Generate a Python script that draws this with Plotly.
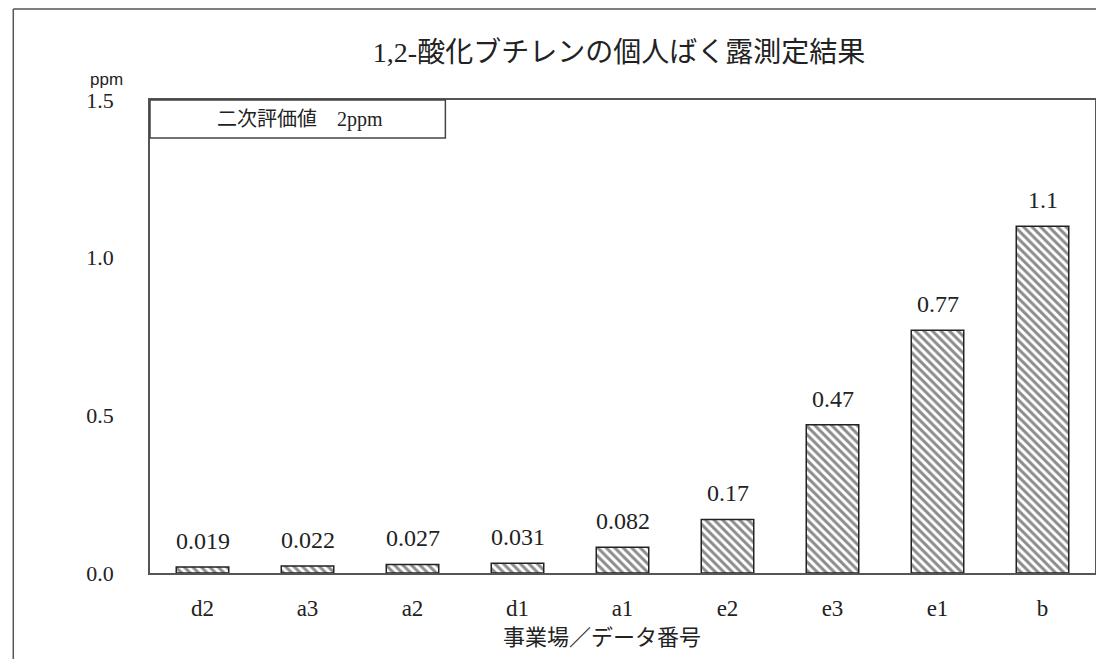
import plotly.graph_objects as go

categories = ["d2", "a3", "a2", "d1", "a1", "e2", "e3", "e1", "b"]
values = [0.019, 0.022, 0.027, 0.031, 0.082, 0.17, 0.47, 0.77, 1.1]
value_labels = ["0.019", "0.022", "0.027", "0.031", "0.082", "0.17", "0.47", "0.77", "1.1"]
y_ticks = [0.0, 0.5, 1.0, 1.5]
y_tick_labels = ["0.0", "0.5", "1.0", "1.5"]

title_text = "1,2-酸化ブチレンの個人ばく露測定結果"
x_title = "事業場／データ番号"
unit_text = "ppm"
note_text = "二次評価値　2ppm"

SERIF = "Liberation Serif, Noto Sans CJK JP, serif"
CJK = "Liberation Serif, Noto Sans CJK JP, sans-serif"

# page body has an 8px margin; work in reference-pixel coordinates and shift
OFF = 8
W, H = 1104 - OFF, 659 - OFF
PL, PR, PT, PB = 150, 1097, 100, 573  # plot area in reference pixels
L, R, T, B = PL - OFF, W - (PR - OFF), PT - OFF, H - (PB - OFF)
pw, ph = PR - PL, PB - PT

def px(xp):
    return (xp - PL) / pw

def py(yp):
    return (PB - yp) / ph

fig = go.Figure()
fig.add_trace(go.Bar(
    x=categories,
    y=values,
    marker=dict(
        color="white",
        line=dict(color="#222222", width=1.5),
        pattern=dict(shape="\\", fgcolor="#1a1a1a", bgcolor="white", size=6, solidity=0.5),
    ),
    hoverinfo="skip",
))

for c, v, t in zip(categories, values, value_labels):
    fig.add_annotation(x=c, y=v, text=t, showarrow=False, yanchor="middle", yshift=26,
                       font=dict(family=SERIF, size=24, color="#222222"))

# outer frame (left and top edges)
fig.add_shape(type="line", xref="paper", yref="paper", x0=px(13), x1=px(13), y0=py(665), y1=py(9),
              line=dict(color="#555555", width=1.5))
fig.add_shape(type="line", xref="paper", yref="paper", x0=px(13), x1=px(1110), y0=py(9), y1=py(9),
              line=dict(color="#555555", width=1.5))

# note box
fig.add_shape(type="rect", xref="paper", yref="paper", x0=0, x1=px(446), y0=py(138), y1=1,
              line=dict(color="#444444", width=1.5), fillcolor="white", layer="above")
fig.add_annotation(xref="paper", yref="paper", x=px(300), y=py(119), text=note_text, showarrow=False,
                   font=dict(family=CJK, size=20, color="#222222"), xanchor="center", yanchor="middle")

# unit label
fig.add_annotation(xref="paper", yref="paper", x=px(106), y=py(80), text=unit_text, showarrow=False,
                   font=dict(family="Liberation Sans, Arial, sans-serif", size=17, color="#222222"),
                   xanchor="center", yanchor="middle")

# x axis title
fig.add_annotation(xref="paper", yref="paper", x=px(603), y=py(637), text=x_title, showarrow=False,
                   font=dict(family=CJK, size=22, color="#222222"), xanchor="center", yanchor="middle")

fig.update_layout(
    width=W, height=H,
    margin=dict(l=L, r=R, t=T, b=B, pad=0),
    paper_bgcolor="white", plot_bgcolor="white",
    showlegend=False,
    bargap=0.5,
    title=dict(text=title_text, x=(619 - OFF) / W, y=1 - (52 - OFF) / H, xanchor="center", yanchor="middle",
               font=dict(family=CJK, size=28, color="#222222")),
)
fig.update_xaxes(
    showline=True, mirror=True, linecolor="#555555", linewidth=1.5,
    showgrid=False, ticks="", ticklabelstandoff=14,
    tickfont=dict(family=SERIF, size=23, color="#222222"),
)
fig.update_yaxes(
    range=[0, 1.5], tickvals=y_ticks, ticktext=y_tick_labels,
    showline=True, mirror=True, linecolor="#555555", linewidth=1.5,
    showgrid=False, zeroline=False, ticks="", ticklabelstandoff=30,
    tickfont=dict(family=SERIF, size=22, color="#222222"),
)

fig.write_html("out.html")
